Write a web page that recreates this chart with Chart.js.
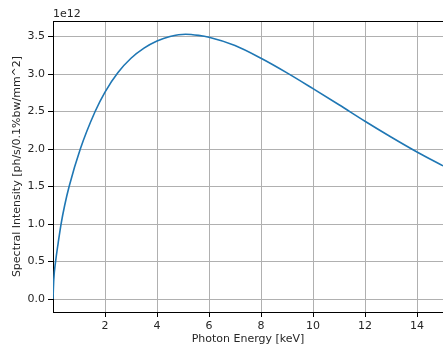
<!DOCTYPE html>
<html>
<head>
<meta charset="utf-8">
<script src="https://cdn.jsdelivr.net/npm/chart.js@4.4.1/dist/chart.umd.min.js"></script>
<style>
  html, body { margin: 0; padding: 0; background: #fff; overflow: hidden; }
  #wrap { width: 443px; height: 349px; }
</style>
</head>
<body>
<div id="wrap"><canvas id="chart" width="443" height="349"></canvas></div>
<script>
// values, intensity in units of 1e12
const energy    = [0, 0.03, 0.1, 0.2, 0.31, 0.45, 0.62, 1.05, 1.62, 2, 2.5, 3, 3.5, 4, 4.5, 5.1, 5.6, 6, 7, 8, 9, 10, 11, 12, 13, 14, 15];
const intensity = [0, 0.26, 0.5, 0.75, 1.0, 1.25, 1.5, 2.0, 2.5, 2.76, 3.02, 3.21, 3.345, 3.44, 3.50, 3.53, 3.515, 3.49, 3.38, 3.21, 3.015, 2.805, 2.59, 2.37, 2.16, 1.96, 1.775];
const xTicks = [2, 4, 6, 8, 10, 12, 14];
const yTicks = [0, 0.5, 1.0, 1.5, 2.0, 2.5, 3.0, 3.5];
const offsetText = '1e12';

const FONT = 'DejaVu Sans';
const SIZE = 11;

// top spine + offset text, like matplotlib
const extras = {
    id: 'extras',
    afterDraw(chart) {
        const { ctx, chartArea } = chart;
        ctx.save();
        ctx.strokeStyle = '#000';
        ctx.lineWidth = 1;
        ctx.beginPath();
        ctx.moveTo(chartArea.left, chartArea.top + 0.5);
        ctx.lineTo(chartArea.right, chartArea.top + 0.5);
        ctx.stroke();
        ctx.fillStyle = '#262626';
        ctx.font = SIZE + 'px "' + FONT + '"';
        ctx.textBaseline = 'middle';
        ctx.textAlign = 'left';
        ctx.fillText(offsetText, chartArea.left, chartArea.top - 7);
        ctx.restore();
    }
};

new Chart(document.getElementById('chart'), {
    type: 'scatter',
    data: {
        datasets: [{
            data: energy.map((e, i) => ({ x: e, y: intensity[i] })),
            showLine: true,
            borderColor: '#1f77b4',
            borderWidth: 1.6,
            pointRadius: 0,
            cubicInterpolationMode: 'monotone',
            fill: false
        }]
    },
    options: {
        responsive: false,
        animation: false,
        layout: { padding: { top: 21, right: 0, left: 0, bottom: 0 } },
        plugins: { legend: { display: false }, tooltip: { enabled: false } },
        scales: {
            x: {
                type: 'linear',
                min: 0, max: 15,
                afterBuildTicks: s => { s.ticks = xTicks.map(v => ({ value: v })); },
                afterFit: s => { s.height = 37; },
                ticks: { color: '#262626', font: { family: FONT, size: SIZE }, padding: 3, maxRotation: 0 },
                grid: { color: '#b0b0b0', lineWidth: 1, tickColor: '#000', tickLength: 5 },
                border: { color: '#000', width: 1 },
                title: { display: true, text: 'Photon Energy [keV]', color: '#262626',
                         font: { family: FONT, size: SIZE }, padding: { top: 0, bottom: 3 } }
            },
            y: {
                min: -0.173, max: 3.707,
                afterBuildTicks: s => { s.ticks = yTicks.map(v => ({ value: v })); },
                afterFit: s => { s.width = 53; },
                ticks: { color: '#262626', font: { family: FONT, size: SIZE }, padding: 3,
                         callback: v => v.toFixed(1) },
                grid: { color: '#b0b0b0', lineWidth: 1, tickColor: '#000', tickLength: 5 },
                border: { color: '#000', width: 1 },
                title: { display: true, text: 'Spectral Intensity [ph/s/0.1%bw/mm^2]', color: '#262626',
                         font: { family: FONT, size: SIZE }, padding: { top: 11, bottom: 0 } }
            }
        }
    },
    plugins: [extras]
});
</script>
</body>
</html>
